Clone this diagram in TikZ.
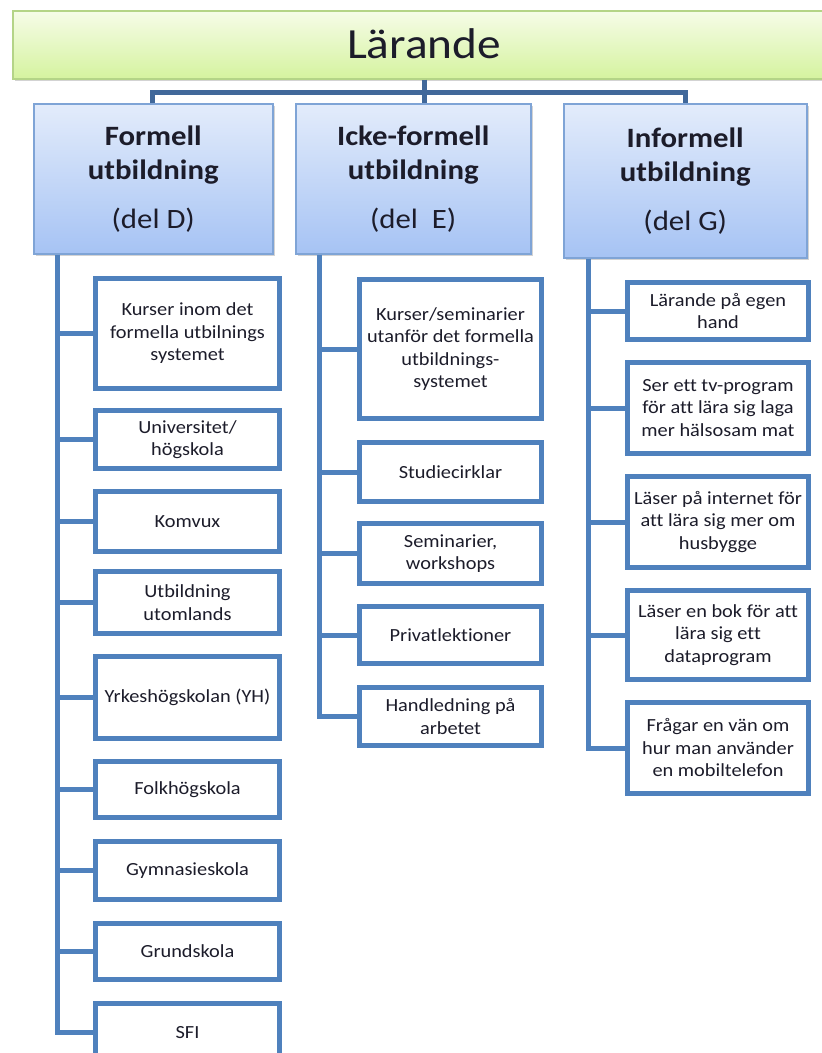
\documentclass[tikz,border=0pt]{standalone}
\usepackage{fontspec}
\setmainfont{Carlito}[Ligatures=NoCommon, FakeStretch=1.1]
\usetikzlibrary{shadows}
\definecolor{leafblue}{HTML}{4F81BD}
\definecolor{topline}{HTML}{41689A}
\definecolor{midborder}{HTML}{7FA4D6}
\definecolor{midtop}{HTML}{E3ECFB}
\definecolor{midbot}{HTML}{A6C3F4}
\definecolor{greentop}{HTML}{F6FCE8}
\definecolor{greenbot}{HTML}{D5F39F}
\definecolor{greenborder}{HTML}{B4D487}
\definecolor{txt}{HTML}{1C1C2A}
\tikzset{
  leaf/.style={draw=leafblue, line width=5pt, fill=white, anchor=north west, align=center,
    inner sep=0pt, text=txt, font=\fontsize{18.5}{22.5}\selectfont},
  midbox/.style={draw=midborder, line width=1.5pt, shading=axis, top color=midtop, bottom color=midbot,
    anchor=north west, align=center, inner sep=0pt, text=txt, font=\fontsize{28}{34}\selectfont,
    drop shadow={shadow xshift=2pt, shadow yshift=-2pt, opacity=0.35}},
  topbox/.style={draw=greenborder, line width=1.5pt, shading=axis, top color=greentop, bottom color=greenbot,
    anchor=north west, inner sep=0pt, text=txt,
    drop shadow={shadow xshift=2pt, shadow yshift=-2pt, opacity=0.35}},
  conn/.style={draw=leafblue, line width=5pt},
  topconn/.style={draw=topline, line width=5pt},
}
\newcommand{\midtext}[2]{\textbf{#1}\\\textbf{utbildning}\\[15pt]#2}
\begin{document}
\begin{tikzpicture}[x=1pt,y=-1pt]
\useasboundingbox (0,0) rectangle (822,1053);
\clip (0,0) rectangle (822,1053);
% top
\node[topbox, minimum width=830pt, minimum height=68pt] (top) at (12,10) {};
\node[text=txt, font=\fontsize{43}{50}\selectfont] (toplabel) at (424,44) {Lärande};
% level 1
\node[midbox, minimum width=239pt, minimum height=150pt] (formell) at (33,103) {\midtext{Formell}{(del D)}};
\node[midbox, minimum width=235pt, minimum height=150pt] (icke) at (295,103) {\midtext{Icke-formell}{(del~~E)}};
\node[midbox, minimum width=243pt, minimum height=154pt] (informell) at (563,103) {\midtext{Informell}{(del G)}};
% top connectors
\coordinate (bar) at (424,92);
\draw[topconn] (top.south -| bar) -- (bar);
\draw[topconn, line join=miter] (formell.north -| 152,0) |- (bar) -| (informell.north -| 685,0);
\draw[topconn] (bar) -- (icke.north -| bar);
% Formell leaves
\node[leaf, minimum width=184pt, minimum height=110pt] (f1) at (93,276) {Kurser inom det\\formella utbilnings\\systemet};
\node[leaf, minimum width=184pt, minimum height=58pt] (f2) at (93,408) {Universitet/\\högskola};
\node[leaf, minimum width=184pt, minimum height=60pt] (f3) at (93,489) {Komvux};
\node[leaf, minimum width=184pt, minimum height=62pt] (f4) at (93,569) {Utbildning\\utomlands};
\node[leaf, minimum width=184pt, minimum height=82pt] (f5) at (93,654) {Yrkeshögskolan (YH)};
\node[leaf, minimum width=184pt, minimum height=56pt] (f6) at (93,759) {Folkhögskola};
\node[leaf, minimum width=184pt, minimum height=58pt] (f7) at (93,839) {Gymnasieskola};
\node[leaf, minimum width=184pt, minimum height=56pt] (f8) at (93,921) {Grundskola};
\node[leaf, minimum width=184pt, minimum height=58pt] (f9) at (93,1001) {SFI};
\coordinate (fv) at (57,0);
\draw[conn, line join=miter] (formell.south -| fv) -- (f9.west -| fv) -- (f9.west);
\foreach \n in {f1,f2,f3,f4,f5,f6,f7,f8} \draw[conn] (\n.west -| fv) -- (\n.west);
% Icke-formell leaves
\node[leaf, minimum width=182pt, minimum height=139pt] (i1) at (357,277) {Kurser/seminarier\\utanför det formella\\utbildnings-\\systemet};
\node[leaf, minimum width=182pt, minimum height=59pt] (i2) at (357,440) {Studiecirklar};
\node[leaf, minimum width=182pt, minimum height=60pt] (i3) at (357,521) {Seminarier,\\workshops};
\node[leaf, minimum width=182pt, minimum height=57pt] (i4) at (357,604) {Privatlektioner};
\node[leaf, minimum width=182pt, minimum height=58pt] (i5) at (357,685) {Handledning på\\arbetet};
\coordinate (iv) at (319,0);
\draw[conn, line join=miter] (icke.south -| iv) -- (i5.west -| iv) -- (i5.west);
\foreach \n in {i1,i2,i3,i4} \draw[conn] (\n.west -| iv) -- (\n.west);
% Informell leaves
\node[leaf, minimum width=181pt, minimum height=57pt] (g1) at (625,280) {Lärande på egen\\hand};
\node[leaf, minimum width=181pt, minimum height=91pt] (g2) at (625,360) {Ser ett tv-program\\för att lära sig laga\\mer hälsosam mat};
\node[leaf, minimum width=181pt, minimum height=91pt] (g3) at (625,474) {Läser på internet för\\att lära sig mer om\\husbygge};
\node[leaf, minimum width=181pt, minimum height=89pt] (g4) at (625,588) {Läser en bok för att\\lära sig ett\\dataprogram};
\node[leaf, minimum width=181pt, minimum height=91pt] (g5) at (625,700) {Frågar en vän om\\hur man använder\\en mobiltelefon};
\coordinate (gv) at (588,0);
\draw[conn, line join=miter] (informell.south -| gv) -- (g5.west -| gv) -- (g5.west);
\foreach \n in {g1,g2,g3,g4} \draw[conn] (\n.west -| gv) -- (\n.west);
\end{tikzpicture}
\end{document}
